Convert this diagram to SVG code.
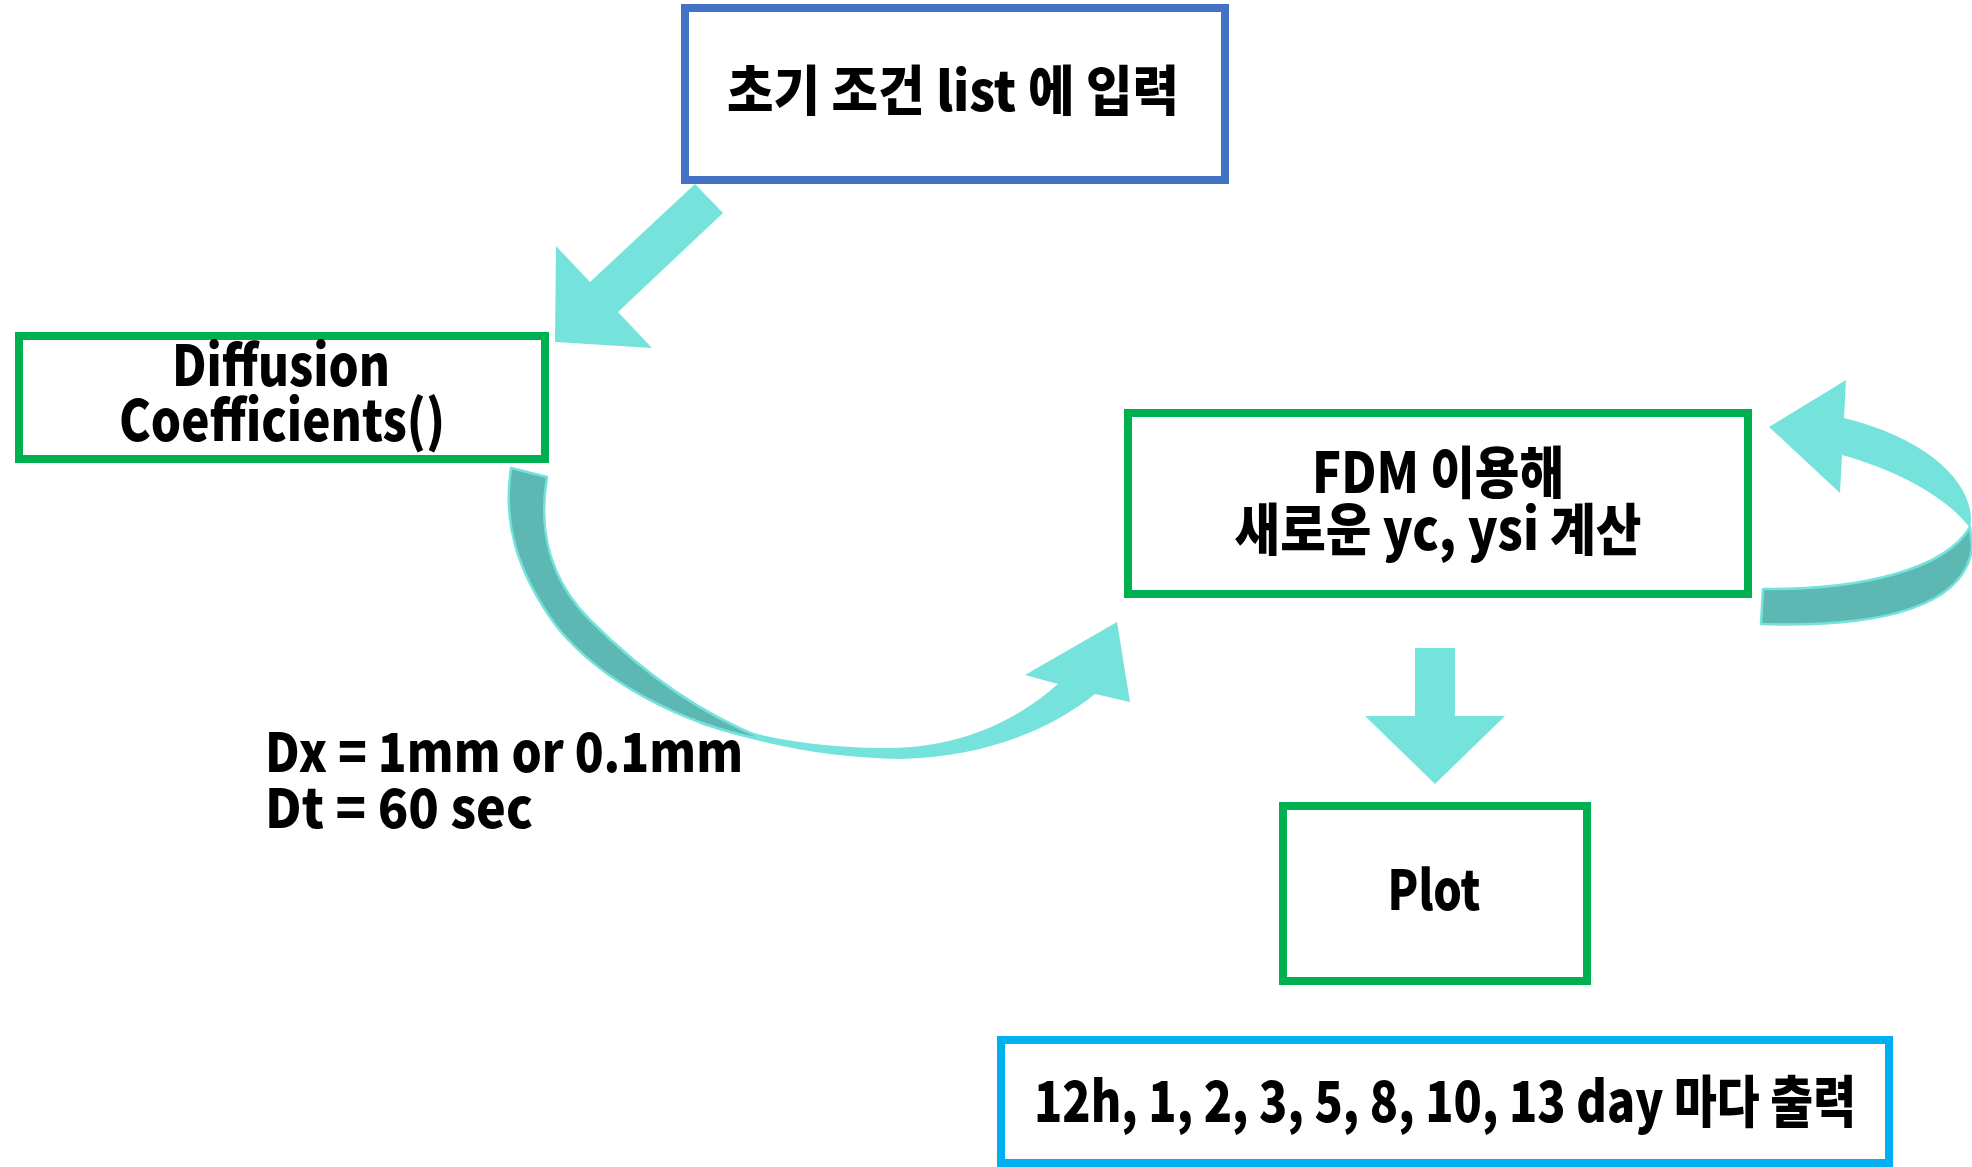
<svg xmlns="http://www.w3.org/2000/svg" width="1972" height="1167" viewBox="0 0 1972 1167">
<style>
.t{font-family:"Noto Sans CJK KR","Noto Sans",sans-serif;font-weight:900;fill:#000;}
.box{fill:#fff;stroke-width:8;}
.g{stroke:#00B050;}
.arrow{fill:#75E3DC;}
.back{fill:#5DB8B4;stroke:#75E3DC;stroke-width:2.5;stroke-linejoin:round;}
</style>
<rect width="1972" height="1167" fill="#fff"/>
<g id="connectors">
  <polygon class="arrow" points="695,184 723,213 618,312 652,348 555,342 556,246 590,282"/>
  <path class="arrow" d="M 700,717 C 760,740 830,748 890,748 C 960,747 1015,722 1058,684 L 1025,675 L 1117,622 L 1130,702 L 1095,694 C 1050,730 985,757 900,759 C 840,758 780,750 700,724 Z"/>
  <path class="back" d="M 511,468 L 547,477 C 538,530 550,580 590,620 C 640,670 700,715 770,741 C 680,725 600,680 557,627 C 515,570 503,520 511,468 Z"/>
  <polygon class="arrow" points="1415,648 1455,648 1455,716 1505,716 1435,784 1365,716 1415,716"/>
  <path class="arrow" d="M 1844,418 L 1846,380 L 1769,427 L 1840,493 L 1842,455 C 1895,470 1945,495 1970,528 C 1978,490 1935,440 1844,418 Z"/>
  <path class="back" d="M 1763,589 C 1860,590 1945,570 1970,527 L 1972,548 C 1965,605 1885,628 1761,624 Z"/>
</g>
<g id="node-init">
  <rect class="box" x="685" y="8" width="540" height="172" stroke="#4472C4"/>
  <text class="t" x="953" y="111" font-size="54" text-anchor="middle" textLength="452" lengthAdjust="spacingAndGlyphs">초기 조건 list 에 입력</text>
</g>
<g id="node-diffusion">
  <rect class="box g" x="19" y="336" width="526" height="123"/>
  <text class="t" x="281" y="386" font-size="56" text-anchor="middle" textLength="218" lengthAdjust="spacingAndGlyphs">Diffusion</text>
  <text class="t" x="282" y="441" font-size="56" text-anchor="middle" textLength="326" lengthAdjust="spacingAndGlyphs">Coefficients()</text>
</g>
<g id="label-dx">
  <text class="t" x="265" y="772" font-size="54" textLength="478" lengthAdjust="spacingAndGlyphs">Dx = 1mm or 0.1mm</text>
  <text class="t" x="265" y="828" font-size="54" textLength="268" lengthAdjust="spacingAndGlyphs">Dt = 60 sec</text>
</g>
<g id="node-fdm">
  <rect class="box g" x="1128" y="413" width="620" height="181"/>
  <text class="t" x="1438" y="493" font-size="56" text-anchor="middle" textLength="252" lengthAdjust="spacingAndGlyphs">FDM 이용해</text>
  <text class="t" x="1438" y="550" font-size="56" text-anchor="middle" textLength="407" lengthAdjust="spacingAndGlyphs">새로운 yc, ysi 계산</text>
</g>
<g id="node-plot">
  <rect class="box g" x="1283" y="806" width="304" height="175"/>
  <text class="t" x="1434" y="910" font-size="55" text-anchor="middle" textLength="93" lengthAdjust="spacingAndGlyphs">Plot</text>
</g>
<g id="node-output">
  <rect class="box" x="1001" y="1040" width="888" height="123" stroke="#00B0F0"/>
  <text class="t" x="1445" y="1122" font-size="56" text-anchor="middle" textLength="822" lengthAdjust="spacingAndGlyphs">12h, 1, 2, 3, 5, 8, 10, 13 day 마다 출력</text>
</g>
</svg>
